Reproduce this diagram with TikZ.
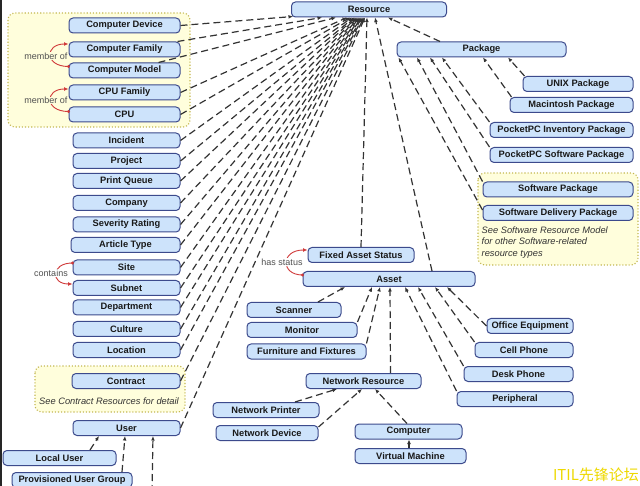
\documentclass[tikz,border=0pt]{standalone}
\usepackage{fontspec}
\setmainfont{Liberation Sans}
\newfontfamily\cjkfont{Noto Sans CJK SC}
\usetikzlibrary{arrows.meta}
\definecolor{nodefill}{HTML}{CDE3FB}
\definecolor{nodeline}{HTML}{3C4A8C}
\definecolor{boxfill}{HTML}{FFFEDC}
\definecolor{boxline}{HTML}{C2B650}
\definecolor{relred}{HTML}{D03A3A}
\definecolor{lblgray}{HTML}{505050}
\definecolor{wmyellow}{HTML}{EED900}
\begin{document}
\begin{tikzpicture}[x=1pt,y=-1pt,
 cls/.style={draw=nodeline, fill=nodefill, line width=1pt, rounded corners=4pt, minimum height=15pt, inner sep=0pt, font=\bfseries\fontsize{9.3}{10}\selectfont, text=black!90},
 note/.style={draw=boxline, fill=boxfill, dotted, line width=1.1pt, rounded corners=7pt},
 dep/.style={draw=black!80, line width=1.2pt, dash pattern=on 7pt off 4pt, -{Latex[length=4.5pt,width=3.8pt]}},
 rel/.style={draw=relred, line width=0.9pt, -{Latex[length=4.5pt,width=4pt]}},
 reldot/.style={fill=relred},
 rellbl/.style={font=\fontsize{9}{10}\selectfont, text=lblgray, inner sep=0.5pt},
 remark/.style={font=\itshape\fontsize{9.3}{11.5}\selectfont, text=black!80, inner sep=0pt},
]
\useasboundingbox (0,0) rectangle (640,486);
\fill[white] (0,0) rectangle (640,486);
% note boxes
\path[note] (8,13) rectangle (190,127);
\path[note] (35,366) rectangle (185,412);
\path[note] (478,173) rectangle (638,265);

% nodes
\node[cls, minimum width=155pt] (res) at (369,9.5) {Resource};
\node[cls, minimum width=111pt] (cd) at (124.5,25.5) {Computer Device};
\node[cls, minimum width=111pt] (cf) at (124.5,49.5) {Computer Family};
\node[cls, minimum width=111pt] (cm) at (124.5,70.5) {Computer Model};
\node[cls, minimum width=111pt] (cpuf) at (124.5,92.5) {CPU Family};
\node[cls, minimum width=111pt] (cpu) at (124.5,114.5) {CPU};
\node[cls, minimum width=107pt] (inc) at (126.5,140.5) {Incident};
\node[cls, minimum width=107pt] (proj) at (126.5,161) {Project};
\node[cls, minimum width=107pt] (pq) at (126.5,181) {Print Queue};
\node[cls, minimum width=107pt] (comp) at (126.5,203) {Company};
\node[cls, minimum width=107pt] (sev) at (126.5,224.5) {Severity Rating};
\node[cls, minimum width=109pt] (art) at (125.5,245) {Article Type};
\node[cls, minimum width=107pt] (site) at (126.5,267.5) {Site};
\node[cls, minimum width=107pt] (subnet) at (126.5,288) {Subnet};
\node[cls, minimum width=107pt] (dept) at (126.5,307.5) {Department};
\node[cls, minimum width=107pt] (cult) at (126.5,329) {Culture};
\node[cls, minimum width=107pt] (loc) at (126.5,350) {Location};
\node[cls, minimum width=108pt] (contract) at (126,381) {Contract};
\node[remark] (contractnote) at (109,401) {See Contract Resources for detail};
\node[cls, minimum width=107pt] (user) at (126.5,428) {User};
\node[cls, minimum width=113pt] (lu) at (59.5,458) {Local User};
\node[cls, minimum width=120pt] (pug) at (72,480) {Provisioned User Group};
\coordinate (offu) at (152,492);

\node[cls, minimum width=106pt] (fas) at (361,255) {Fixed Asset Status};
\node[cls, minimum width=172pt] (asset) at (389,279) {Asset};
\node[cls, minimum width=94pt] (scanner) at (294,310) {Scanner};
\node[cls, minimum width=110pt] (monitor) at (302,330) {Monitor};
\node[cls, minimum width=119pt] (furn) at (306.5,351.5) {Furniture and Fixtures};
\node[cls, minimum width=115pt] (netres) at (363.5,381) {Network Resource};
\node[cls, minimum width=106pt] (nprint) at (266,410) {Network Printer};
\node[cls, minimum width=102pt] (ndev) at (267,433) {Network Device};
\node[cls, minimum width=107pt] (computer) at (408.5,431.5) {Computer};
\node[cls, minimum width=111pt] (vm) at (410.5,456) {Virtual Machine};
\node[cls, minimum width=86pt] (office) at (530,326) {Office Equipment};
\node[cls, minimum width=98pt] (cell) at (524,350) {Cell Phone};
\node[cls, minimum width=109pt] (desk) at (518.5,374) {Desk Phone};
\node[cls, minimum width=116pt] (periph) at (515,399) {Peripheral};

\node[cls, minimum width=169pt] (package) at (481.5,49.5) {Package};
\node[cls, minimum width=110pt] (unix) at (578,84) {UNIX Package};
\node[cls, minimum width=123pt] (mac) at (571.5,105) {Macintosh Package};
\node[cls, minimum width=143pt] (ppcinv) at (561.5,130) {PocketPC Inventory Package};
\node[cls, minimum width=143pt] (ppcsw) at (561.5,155) {PocketPC Software Package};
\node[cls, minimum width=150pt] (swpkg) at (558,189.5) {Software Package};
\node[cls, minimum width=150pt] (swdel) at (558,213) {Software Delivery Package};
\node[remark, align=left, anchor=north west] (swnote) at (481.5,226.5) {See Software Resource Model\\for other Software-related\\resource types};

% connectors to Resource
\draw[dep] (cd.east) -- ([xshift=-76pt,yshift=1pt]res.south);
\draw[dep] ([xshift=-3pt]cf.north east) -- ([xshift=-47pt]res.south);
\draw[dep] ([xshift=-22pt]cm.north east) -- ([xshift=-33pt]res.south);
\draw[dep] (cpuf.east) -- ([xshift=-22pt]res.south);
\draw[dep] (cpu.east) -- ([xshift=-19pt]res.south);
\draw[dep] (inc.east) -- ([xshift=-17pt]res.south);
\draw[dep] (proj.east) -- ([xshift=-15pt]res.south);
\draw[dep] (pq.east) -- ([xshift=-14pt]res.south);
\draw[dep] (comp.east) -- ([xshift=-13pt]res.south);
\draw[dep] (sev.east) -- ([xshift=-12pt]res.south);
\draw[dep] (art.east) -- ([xshift=-11pt]res.south);
\draw[dep] (site.east) -- ([xshift=-10pt]res.south);
\draw[dep] (subnet.east) -- ([xshift=-9pt]res.south);
\draw[dep] (dept.east) -- ([xshift=-8pt]res.south);
\draw[dep] (cult.east) -- ([xshift=-7pt]res.south);
\draw[dep] (loc.east) -- ([xshift=-6pt]res.south);
\draw[dep] (contract.east) -- ([xshift=-5pt]res.south);
\draw[dep] (user.east) -- ([xshift=-4pt]res.south);
\draw[dep] (fas.north) -- ([xshift=-2pt]res.south);
\draw[dep] ([xshift=43pt]asset.north) -- ([xshift=6pt]res.south);
\draw[dep] ([xshift=-41.5pt]package.north) -- ([xshift=19pt]res.south);

% connectors to Package
\draw[dep] ([xshift=2pt]unix.north west) -- ([xshift=26.5pt]package.south);
\draw[dep] ([xshift=2pt]mac.north west) -- ([xshift=1.5pt]package.south);
\draw[dep] (ppcinv.north west) -- ([xshift=-39.5pt]package.south);
\draw[dep] (ppcsw.north west) -- ([xshift=-51.5pt]package.south);
\draw[dep] (swpkg.north west) -- ([xshift=-64.5pt]package.south);
\draw[dep] ([yshift=3pt]swdel.west) -- ([xshift=2pt]package.south west);

% connectors to Asset
\draw[dep] ([xshift=24pt]scanner.north) -- ([xshift=-44pt]asset.south);
\draw[dep] (monitor.north east) -- ([xshift=-17pt]asset.south);
\draw[dep] (furn.north east) -- ([xshift=-9pt]asset.south);
\draw[dep] ([xshift=27pt]netres.north) -- ([xshift=1pt]asset.south);
\draw[dep] (periph.north west) -- ([xshift=16pt]asset.south);
\draw[dep] (desk.north west) -- ([xshift=29pt]asset.south);
\draw[dep] (cell.north west) -- ([xshift=46pt]asset.south);
\draw[dep] (office.west) -- ([xshift=58pt]asset.south);

% connectors to Network Resource and Computer
\draw[dep] ([xshift=29pt]nprint.north) -- ([xshift=-26.5pt]netres.south);
\draw[dep] ([yshift=6pt]ndev.east) -- ([xshift=-1.5pt]netres.south);
\draw[dep] ([xshift=-1.5pt]computer.north) -- ([xshift=11.5pt]netres.south);
\draw[dep] ([xshift=-1.5pt]vm.north) -- ([xshift=0.5pt]computer.south);

% connectors to User
\draw[dep] ([xshift=30.5pt]lu.north) -- ([xshift=-27.5pt]user.south);
\draw[dep] ([xshift=50pt]pug.north) -- ([xshift=-1.5pt]user.south);
\draw[dep] (offu) -- ([xshift=26.5pt]user.south);

% red relations
\draw[rel] ([yshift=4pt]cm.west) .. controls +(-24,0) and +(-24,0) .. ([yshift=5.5pt]cf.west);
\fill[reldot] ([yshift=4pt]cm.west) circle (1.6pt);
\draw[rel] ([yshift=3pt]cpu.west) .. controls +(-24,0) and +(-24,0) .. ([yshift=3.5pt]cpuf.west);
\fill[reldot] ([yshift=3pt]cpu.west) circle (1.6pt);
\draw[rel] ([yshift=4.5pt]site.west) .. controls +(-22,0) and +(-22,0) .. ([yshift=4pt]subnet.west);
\fill[reldot] ([yshift=4.5pt]site.west) circle (1.6pt);
\draw[rel] ([yshift=4pt]asset.west) .. controls +(-22,0) and +(-27,0) .. ([yshift=5pt]fas.west);
\fill[reldot] ([yshift=4pt]asset.west) circle (1.6pt);

\node[rellbl, fill=boxfill] (mo1) at (46,56) {member of};
\node[rellbl, fill=boxfill] (mo2) at (46,100.5) {member of};
\node[rellbl, fill=white] (cont) at (51,273) {contains};
\node[rellbl, fill=white] (hs) at (282,262) {has status};

% watermark and left edge
\node[font=\cjkfont\fontsize{15}{16}\selectfont, text=wmyellow, inner sep=0pt] (wm) at (596,475) {ITIL先锋论坛};
\fill[black!85] (0,0) rectangle (2,486);
\end{tikzpicture}
\end{document}
